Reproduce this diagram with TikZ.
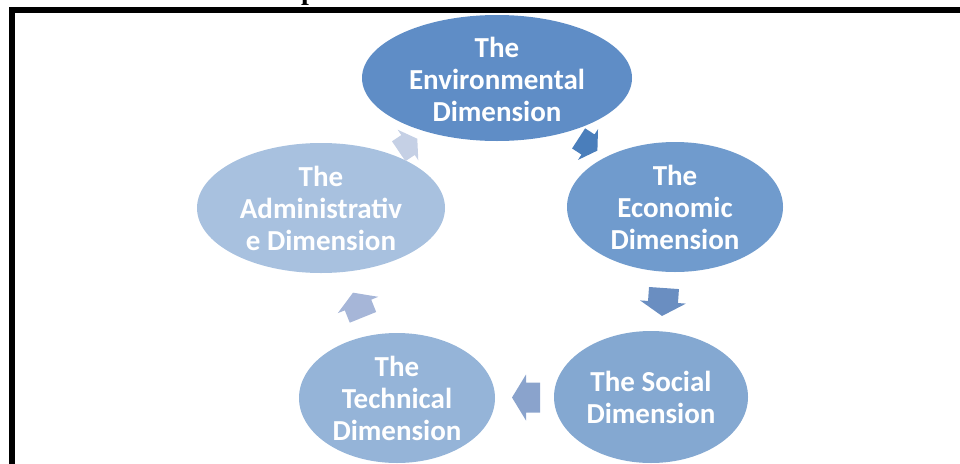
\documentclass[tikz,border=0pt]{standalone}
\usepackage{fontspec}
\setmainfont{Carlito}
\newfontfamily\titleserif{Liberation Serif}
\usetikzlibrary{shapes.geometric,calc}
\definecolor{envc}{RGB}{95,141,198}
\definecolor{econc}{RGB}{112,155,205}
\definecolor{socc}{RGB}{132,168,209}
\definecolor{techc}{RGB}{149,180,216}
\definecolor{admc}{RGB}{168,193,223}
\definecolor{arrA}{RGB}{74,126,187}
\definecolor{arrB}{RGB}{106,142,193}
\definecolor{arrC}{RGB}{138,163,204}
\definecolor{arrD}{RGB}{166,182,216}
\definecolor{arrE}{RGB}{197,208,229}
\tikzset{
  dimnode/.style={ellipse, inner sep=0pt, text=white, align=center,
    font=\fontsize{29}{32}\selectfont\bfseries},
  blockarr/.pic={\fill[pic actions] (-14,-15) -- (0,-15) -- (0,-23) -- (14,0) -- (0,23) -- (0,15) -- (-14,15) -- cycle;},
  frameline/.style={line width=6pt, line join=miter}
}
\begin{document}
\begin{tikzpicture}[x=1pt,y=-1pt]
\useasboundingbox (0,0) rectangle (960,463);
\node[anchor=base west, inner sep=0pt, font=\titleserif\bfseries\fontsize{28}{30}\selectfont] (title) at (301,-0.5) {p};
\coordinate (fbl) at (11.7,475);
\coordinate (ftl) at (11.7,10.3);
\coordinate (ftr) at (975,10.3);
\draw[frameline] (fbl) -- (ftl) -- (ftr);
\node[dimnode, fill=envc, minimum width=270pt, minimum height=126pt] (env) at (497,78) {\strut The\\Environmental\\Dimension};
\node[dimnode, fill=econc, minimum width=216pt, minimum height=130pt] (econ) at (675,207) {The\\Economic\\Dimension};
\node[dimnode, fill=socc, minimum width=194pt, minimum height=132pt] (soc) at (651,397) {The Social\\Dimension};
\node[dimnode, fill=techc, minimum width=196pt, minimum height=130pt] (tech) at (397,398) {The\\Technical\\Dimension};
\node[dimnode, fill=admc, minimum width=248pt, minimum height=130pt] (adm) at (321,208) {The\\Administrativ\\e Dimension};
\pic[fill=arrA, rotate=-33, scale=0.8] at ($(env)!0.5!(econ)+(2,2)$) {blockarr};
\pic[fill=arrB, rotate=-94] at ($(econ)!0.5!(soc)$) {blockarr};
\pic[fill=arrC, rotate=180] at ($(soc)!0.5!(tech)+(2,0)$) {blockarr};
\pic[fill=arrD, rotate=112, scale=0.95] at ($(tech)!0.5!(adm)+(-1,2)$) {blockarr};
\pic[fill=arrE, rotate=34, scale=0.8] at ($(adm)!0.5!(env)+(-1,2)$) {blockarr};
\end{tikzpicture}
\end{document}
